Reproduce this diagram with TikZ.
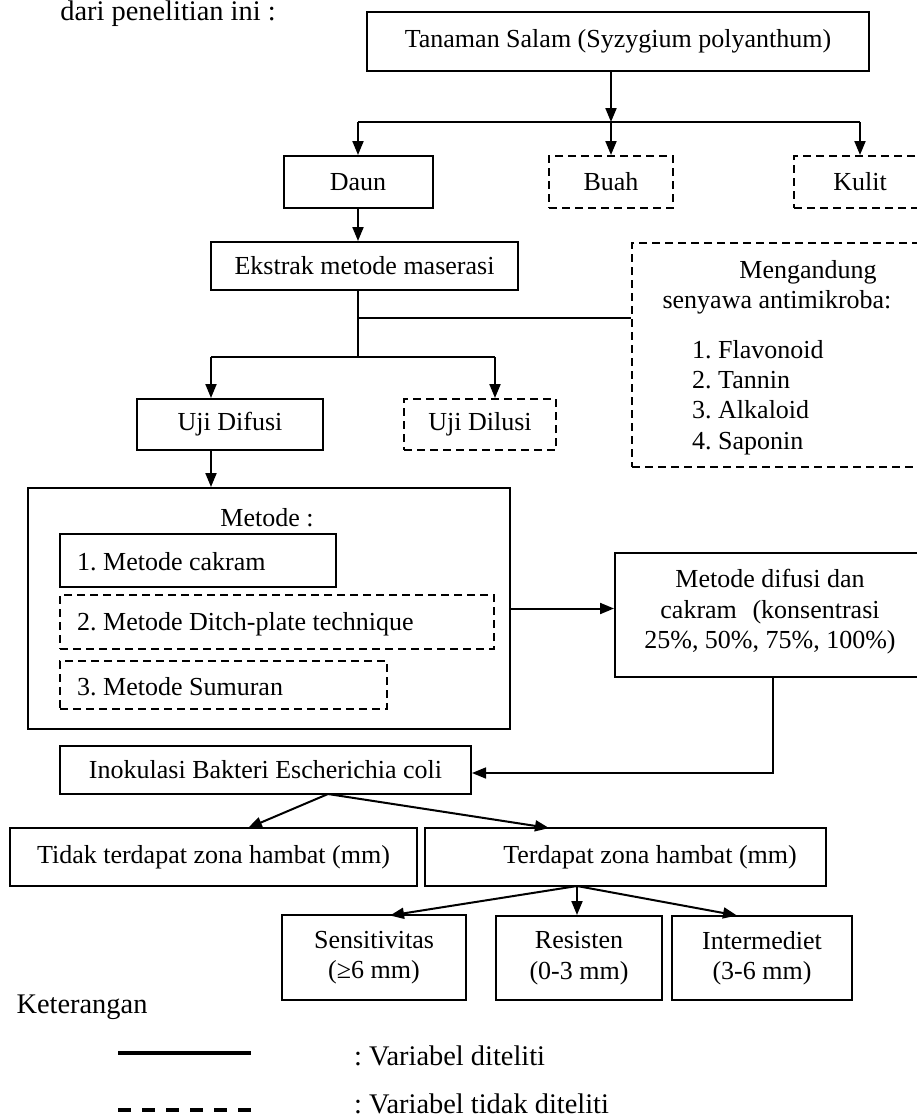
\documentclass[tikz,border=0pt]{standalone}
\usepackage{fontspec}
\setmainfont{Liberation Serif}
\usetikzlibrary{arrows.meta,calc}
\frenchspacing
\begin{document}
\begin{tikzpicture}[x=1pt,y=-1pt,
  font=\fontsize{26pt}{30.5pt}\selectfont,
  bx/.style={draw,line width=2pt,inner sep=0pt,rectangle},
  dbx/.style={bx,dash pattern=on 8pt off 5pt},
  txt/.style={inner sep=0pt},
  bigtxt/.style={inner sep=0pt,font=\fontsize{28.4pt}{33pt}\selectfont},
  conn/.style={line width=2pt},
  arr/.style={line width=2pt,-{Triangle[length=14pt,width=11pt]}},
  thinarr/.style={line width=1.6pt,-{Triangle[length=14pt,width=11pt]}}]
\useasboundingbox (0,0) rectangle (916,1119);

% intro text
\node[bigtxt] (intro) at (168,14) {dari penelitian ini :};

% top level
\node[bx,minimum width=502pt,minimum height=59pt] (top) at (618,41.5) {Tanaman Salam (Syzygium polyanthum)};
\node[bx,minimum width=149pt,minimum height=52pt] (daun) at (358,182) {Daun};
\node[dbx,minimum width=124pt,minimum height=52pt] (buah) at (611,182) {Buah};
\node[dbx,minimum width=132pt,minimum height=52pt] (kulit) at (860,182) {Kulit};

\coordinate (j1) at (611,122);
\draw[arr] (top.south -| buah.north) -- (j1);
\draw[conn] (j1 -| daun.north) -- (j1 -| kulit.north);
\draw[arr] (j1 -| daun.north) -- (daun.north);
\draw[arr] (j1) -- (buah.north);
\draw[arr] (j1 -| kulit.north) -- (kulit.north);

% ekstrak
\node[bx,minimum width=307pt,minimum height=48pt] (ekstrak) at (364.5,266) {Ekstrak metode maserasi};
\draw[arr] (daun.south) -- (daun.south |- ekstrak.north);

% mengandung
\node[dbx,minimum width=292pt,minimum height=224pt] (meng) at (778,355) {};
\node[txt] (m1) at (808,272) {Mengandung};
\node[txt] (m2) at (777,302) {senyawa antimikroba:};
\node[txt,anchor=base west] (m3) at (692,358) {1. Flavonoid};
\node[txt,anchor=base west] (m4) at (692,388) {2. Tannin};
\node[txt,anchor=base west] (m5) at (692,418) {3. Alkaloid};
\node[txt,anchor=base west] (m6) at (692,449) {4. Saponin};

\coordinate (j2) at (358,318);
\coordinate (j3) at (358,357);
\draw[conn] (ekstrak.south -| j3) -- (j3);
\draw[conn] (j2) -- (meng.west |- j2);

% uji
\node[bx,minimum width=186pt,minimum height=51pt] (difusi) at (230,424.5) {Uji Difusi};
\node[dbx,minimum width=152pt,minimum height=51pt] (dilusi) at (480,424.5) {Uji Dilusi};
\coordinate (a1) at (211,357);
\coordinate (a2) at (495,357);
\draw[conn] (a1) -- (a2);
\draw[arr] (a1) -- (a1 |- difusi.north);
\draw[arr] (a2) -- (a2 |- dilusi.north);

% metode big box
\node[bx,minimum width=482pt,minimum height=241pt] (metode) at (269,608.5) {};
\node[txt] (mt) at (267,518) {Metode :};
\node[bx,minimum width=276pt,minimum height=53pt] (cakram) at (198,560.5) {};
\node[txt,anchor=west] (cakramt) at (77,562) {1. Metode cakram};
\node[dbx,minimum width=434pt,minimum height=54pt] (ditch) at (277,622) {};
\node[txt,anchor=west] (ditcht) at (77,624) {2. Metode Ditch-plate technique};
\node[dbx,minimum width=327pt,minimum height=48pt] (sumur) at (223.5,685) {};
\node[txt,anchor=west] (sumurt) at (77,687) {3. Metode Sumuran};
\draw[arr] (a1 |- difusi.south) -- (a1 |- metode.north);

% metode difusi dan cakram
\node[bx,minimum width=310pt,minimum height=124pt] (mdif) at (770,615) {};
\node[txt,align=center] (mdift) at (770,612) {Metode difusi dan\\cakram\hspace{0.6em}(konsentrasi\\25\%, 50\%, 75\%, 100\%)};
\draw[arr] (metode.east) -- (metode.east -| mdif.west);

% inokulasi
\node[bx,minimum width=411pt,minimum height=48pt] (inok) at (265.5,770) {Inokulasi Bakteri Escherichia coli};
\coordinate (c1) at (773,773);
\draw[thinarr] (mdif.south -| c1) -- (c1) -- (c1 -| inok.east);

% zona hambat
\node[bx,minimum width=407pt,minimum height=58pt] (tidak) at (213.5,857) {Tidak terdapat zona hambat (mm)};
\node[bx,minimum width=401pt,minimum height=58pt] (terdapat) at (625.5,857) {};
\node[txt] (terdapatt) at (650,857) {Terdapat zona hambat (mm)};
\coordinate (i1) at (328,794);
\draw[arr] (i1) -- (248,828);
\draw[arr] (i1) -- (549,828);

% hasil
\node[bx,minimum width=184pt,minimum height=85pt,align=center] (sens) at (374,957.5) {Sensitivitas\\(≥6 mm)};
\node[bx,minimum width=166pt,minimum height=84pt,align=center] (resis) at (579,958) {Resisten\\(0-3 mm)};
\node[bx,minimum width=180pt,minimum height=84pt,align=center] (inter) at (762,958) {Intermediet\\(3-6 mm)};
\coordinate (k1) at (577,886);
\draw[arr] (k1) -- (390,915.5);
\draw[arr] (k1) -- (k1 |- resis.north);
\draw[arr] (k1) -- (737,915.5);

% legend
\node[bigtxt] (ket) at (82,1007) {Keterangan};
\coordinate (l1) at (118,1053);
\coordinate (l2) at (251,1053);
\coordinate (l3) at (118,1110);
\coordinate (l4) at (251,1110);
\draw[line width=4pt] (l1) -- (l2);
\draw[line width=4pt,dash pattern=on 13pt off 11pt] (l3) -- (l4);
\node[bigtxt,anchor=west] (lt1) at (354,1056) {: Variabel diteliti};
\node[bigtxt,anchor=west] (lt2) at (354,1104) {: Variabel tidak diteliti};
\end{tikzpicture}
\end{document}
